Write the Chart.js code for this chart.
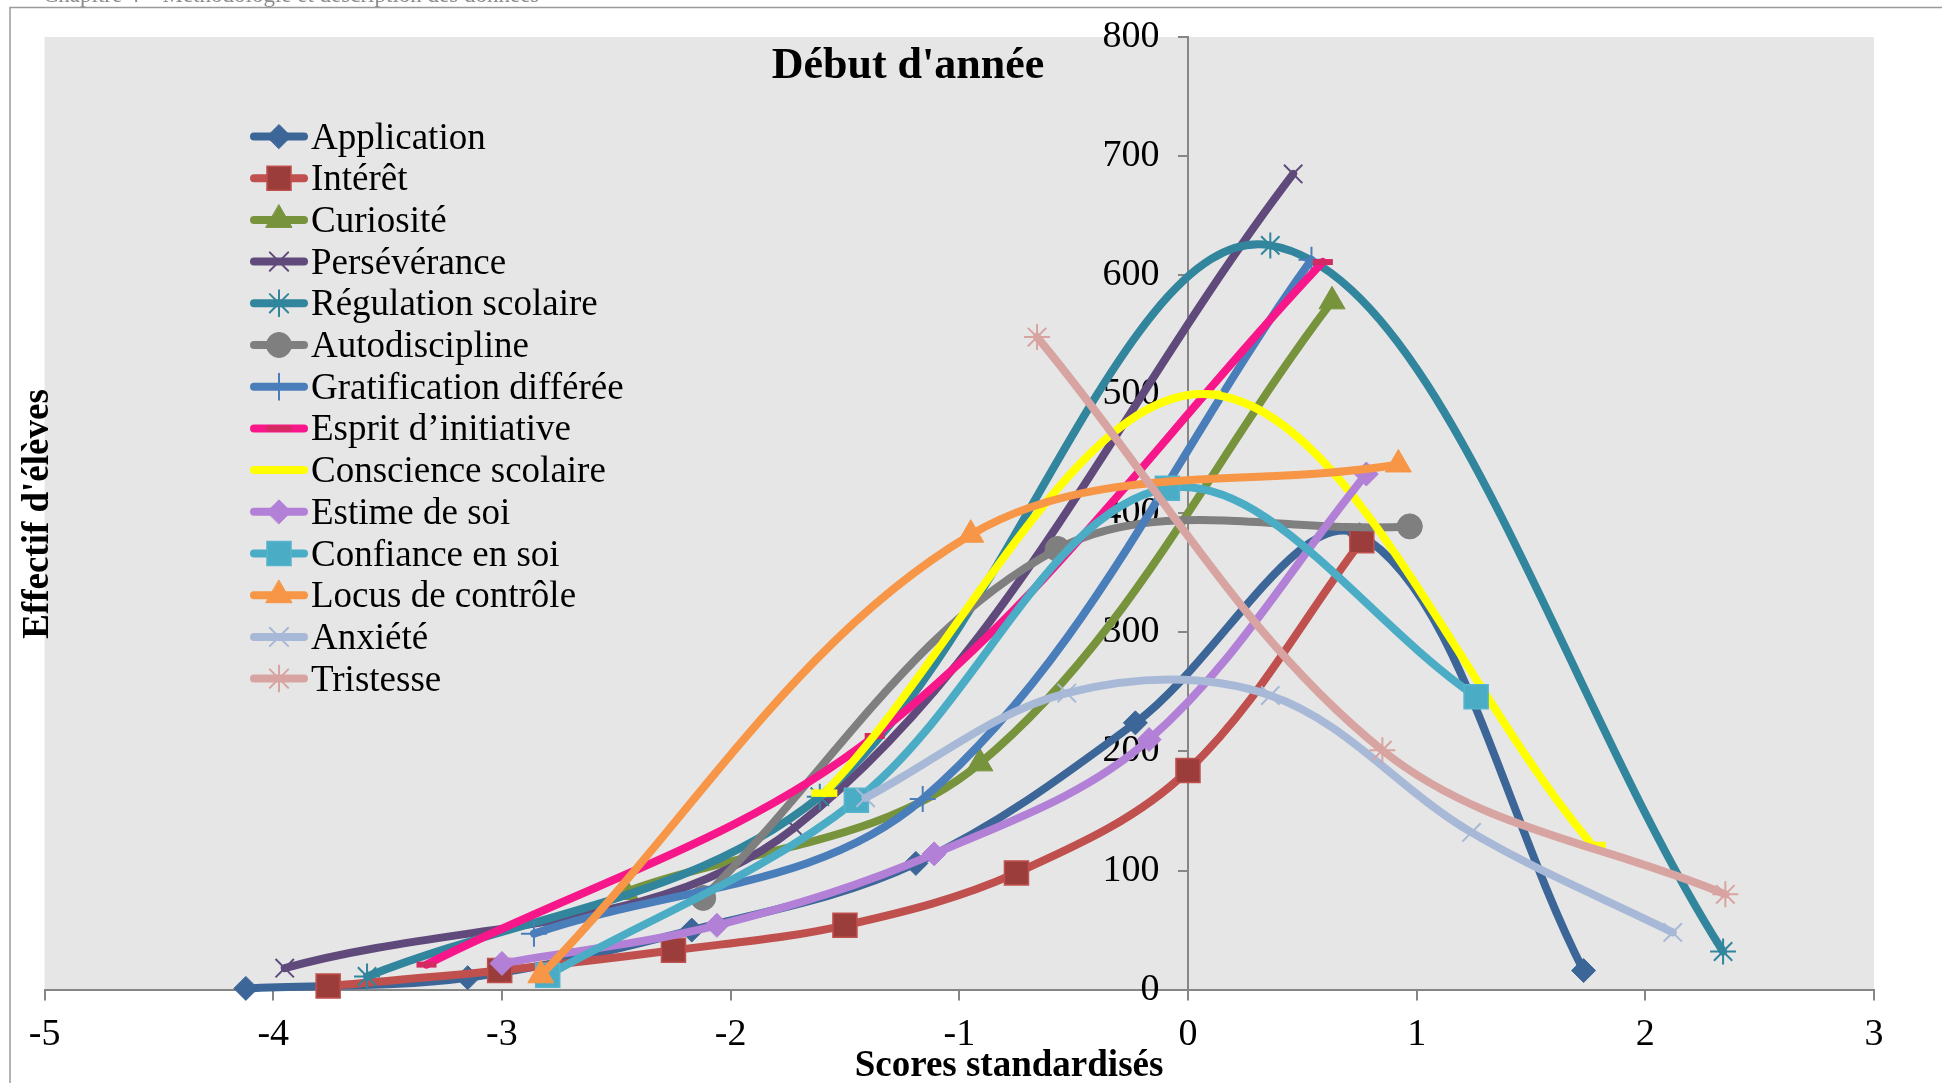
<!DOCTYPE html>
<html lang="fr">
<head>
<meta charset="utf-8">
<title>Début d'année</title>
<script src="https://cdn.jsdelivr.net/npm/chart.js@4/dist/chart.umd.min.js"></script>
<style>
  html, body { margin: 0; padding: 0; background: #fff; }
  #wrap { width: 1942px; height: 1083px; }
</style>
</head>
<body>
<div id="wrap"><canvas id="chart" width="1942" height="1083"></canvas></div>
<script>
// series names, in legend order
var seriesNames = ['Application', 'Intérêt', 'Curiosité', 'Persévérance', 'Régulation scolaire',
  'Autodiscipline', 'Gratification différée', 'Esprit d’initiative', 'Conscience scolaire',
  'Estime de soi', 'Confiance en soi', 'Locus de contrôle', 'Anxiété', 'Tristesse'];

// standardised scores (x) and number of pupils (y)
var applicationX = [-4.12, -3.15, -2.17, -1.19, -0.23, 0.75, 1.73];
var applicationY = [1, 10, 50, 106, 224, 382, 16];
var interetX = [-3.76, -3.01, -2.25, -1.50, -0.75, 0.0, 0.76];
var interetY = [3, 16, 33, 54, 98, 184, 377];
var curiositeX = [-2.46, -0.91, 0.63];
var curiositeY = [82, 190, 578];
var perseveranceX = [-3.95, -1.72, 0.46];
var perseveranceY = [18, 136, 685];
var regulationX = [-3.59, -1.61, 0.36, 2.34];
var regulationY = [11, 162, 625, 32];
var autodisciplineX = [-2.12, -0.57, 0.97];
var autodisciplineY = [77, 370, 389];
var gratificationX = [-2.86, -1.16, 0.54];
var gratificationY = [47, 160, 613];
var espritX = [-3.33, -1.37, 0.59];
var espritY = [21, 213, 611];
var conscienceX = [-1.59, 0.09, 1.77];
var conscienceY = [165, 500, 121];
var estimeX = [-3.00, -2.06, -1.11, -0.17, 0.78];
var estimeY = [22, 54, 114, 210, 433];
var confianceX = [-2.80, -1.45, -0.09, 1.26];
var confianceY = [12, 159, 421, 246];
var locusX = [-2.83, -0.95, 0.92];
var locusY = [12, 382, 441];
var anxieteX = [-1.41, -0.53, 0.36, 1.24, 2.12];
var anxieteY = [161, 249, 247, 132, 48];
var tristesseX = [-0.66, 0.85, 2.35];
var tristesseY = [548, 201, 80];

var allX = [applicationX, interetX, curiositeX, perseveranceX, regulationX, autodisciplineX,
  gratificationX, espritX, conscienceX, estimeX, confianceX, locusX, anxieteX, tristesseX];
var allY = [applicationY, interetY, curiositeY, perseveranceY, regulationY, autodisciplineY,
  gratificationY, espritY, conscienceY, estimeY, confianceY, locusY, anxieteY, tristesseY];

// line colour + marker for each series
var styles = [
  { color: '#3c6698', marker: 'rectRot', fill: '#3c6698', stroke: '#3c6698', r: 12, w: 1 },
  { color: '#c0504d', marker: 'rect', fill: '#9b3d3b', stroke: '#c0504d', r: 17, w: 1.5 },
  { color: '#77933c', marker: 'triangle', fill: '#77933c', stroke: '#77933c', r: 15, w: 1 },
  { color: '#604a7b', marker: 'crossRot', fill: '#604a7b', stroke: '#604a7b', r: 13, w: 2 },
  { color: '#31859c', marker: 'star', fill: '#31859c', stroke: '#31859c', r: 13, w: 2 },
  { color: '#7f7f7f', marker: 'circle', fill: '#7f7f7f', stroke: '#7f7f7f', r: 12.5, w: 1 },
  { color: '#4a7ebb', marker: 'cross', fill: '#4a7ebb', stroke: '#4a7ebb', r: 13, w: 2 },
  { color: '#f7178a', marker: 'line', fill: '#c0504d', stroke: '#d42a62', r: 10, w: 6 },
  { color: '#ffff00', marker: 'line', fill: '#ffff00', stroke: '#ffff00', r: 13, w: 7.5 },
  { color: '#b281d7', marker: 'rectRot', fill: '#b281d7', stroke: '#b281d7', r: 12, w: 1 },
  { color: '#4bacc6', marker: 'rect', fill: '#4bacc6', stroke: '#56b4cc', r: 17, w: 1.5 },
  { color: '#f79646', marker: 'triangle', fill: '#f79646', stroke: '#f79646', r: 15, w: 1 },
  { color: '#a7b9d7', marker: 'crossRot', fill: '#a7b9d7', stroke: '#a7b9d7', r: 13, w: 2 },
  { color: '#d8a4a1', marker: 'star', fill: '#d8a4a1', stroke: '#d8a4a1', r: 13, w: 2 }
];

var serif = '"Liberation Serif", "Times New Roman", serif';
Chart.defaults.font.family = serif;

var datasets = seriesNames.map(function (name, i) {
  var st = styles[i];
  return {
    label: name,
    data: allX[i].map(function (x, j) { return { x: x, y: allY[i][j] }; }),
    showLine: true,
    borderColor: st.color,
    borderWidth: 8,
    borderCapStyle: 'round',
    borderJoinStyle: 'round',
    tension: 0.35,
    pointStyle: st.marker,
    pointRadius: st.r,
    pointBackgroundColor: st.fill,
    pointBorderColor: st.stroke,
    pointBorderWidth: st.w,
    order: seriesNames.length - i,
    clip: false
  };
});

// background, frame, titles and the legend box
var decor = {
  id: 'decor',
  beforeDraw: function (chart) {
    var ctx = chart.ctx, a = chart.chartArea;
    ctx.save();
    ctx.fillStyle = '#fff';
    ctx.fillRect(0, 0, chart.width, chart.height);
    // running header of the page, cut by the top edge
    ctx.fillStyle = '#8c8c8c';
    ctx.font = '23px ' + serif;
    ctx.textBaseline = 'alphabetic';
    ctx.fillText('Chapitre 4 – Méthodologie et description des données', 43, 2);
    ctx.strokeStyle = '#9a9a9a';
    ctx.lineWidth = 1.5;
    ctx.beginPath();
    ctx.moveTo(10, chart.height);
    ctx.lineTo(10, 7.5);
    ctx.lineTo(chart.width, 7.5);
    ctx.stroke();
    ctx.fillStyle = '#e6e6e6';
    ctx.fillRect(a.left, a.top, a.right - a.left, a.bottom - a.top);
    ctx.restore();
  },
  afterDraw: function (chart) {
    var ctx = chart.ctx;
    ctx.save();
    ctx.fillStyle = '#000';
    ctx.textAlign = 'center';
    ctx.textBaseline = 'alphabetic';
    ctx.font = 'bold 44px ' + serif;
    ctx.fillText("Début d'année", 908, 78);
    ctx.font = 'bold 37px ' + serif;
    ctx.fillText('Scores standardisés', 1009, 1076);
    ctx.save();
    ctx.translate(48, 514);
    ctx.rotate(-Math.PI / 2);
    ctx.fillText("Effectif d'élèves", 0, 0);
    ctx.restore();

    // legend
    var lx0 = 254, lx1 = 304, ly0 = 136.5, ldy = 41.7;
    ctx.textAlign = 'left';
    ctx.font = '37px ' + serif;
    chart.data.datasets.forEach(function (ds, i) {
      var y = ly0 + i * ldy;
      ctx.strokeStyle = ds.borderColor;
      ctx.lineWidth = 8;
      ctx.lineCap = 'round';
      ctx.beginPath();
      ctx.moveTo(lx0, y);
      ctx.lineTo(lx1, y);
      ctx.stroke();
      if (Chart.helpers && Chart.helpers.drawPoint) {
        ctx.fillStyle = ds.pointBackgroundColor;
        ctx.strokeStyle = ds.pointBorderColor;
        ctx.lineWidth = ds.pointBorderWidth;
        Chart.helpers.drawPoint(ctx, {
          pointStyle: ds.pointStyle, radius: ds.pointRadius, rotation: 0,
          borderWidth: ds.pointBorderWidth
        }, (lx0 + lx1) / 2, y);
      }
      ctx.fillStyle = '#000';
      ctx.fillText(ds.label, 311, y + 12);
    });
    ctx.restore();
  }
};

new Chart(document.getElementById('chart'), {
  type: 'scatter',
  data: { datasets: datasets },
  plugins: [decor],
  options: {
    responsive: false,
    devicePixelRatio: 1,
    animation: false,
    events: [],
    layout: { padding: { left: 44.6, right: 68, top: 37, bottom: 0 } },
    plugins: {
      legend: { display: false },
      title: { display: false },
      tooltip: { enabled: false }
    },
    scales: {
      x: {
        type: 'linear',
        position: 'bottom',
        min: -5,
        max: 3,
        ticks: {
          stepSize: 1, color: '#000', font: { size: 38 }, padding: 12,
          callback: function (v) { return String(v); }
        },
        grid: { drawOnChartArea: false, tickLength: 11, color: '#868686', lineWidth: 2 },
        border: { color: '#868686', width: 2 },
        afterFit: function (s) { s.height = 93.4; }
      },
      y: {
        type: 'linear',
        position: { x: 0 },
        min: 0,
        max: 800,
        ticks: {
          stepSize: 100, color: '#000', font: { size: 38 },
          // the axis sits at x = 0, so keep the labels clear of it
          callback: function (v) { return v + '   '; }
        },
        grid: { drawOnChartArea: false, tickLength: 9, color: '#868686', lineWidth: 2 },
        border: { color: '#868686', width: 2 }
      }
    }
  }
});
</script>
</body>
</html>
